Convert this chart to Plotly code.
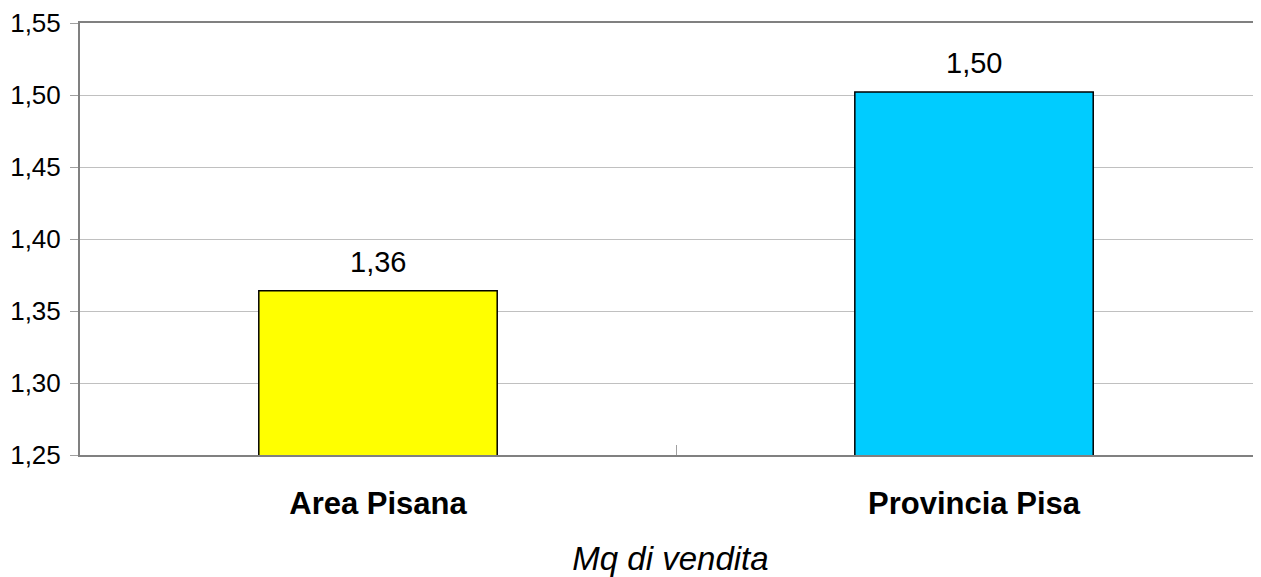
import plotly.graph_objects as go

categories = ["Area Pisana", "Provincia Pisa"]
values = [1.364, 1.502]
colors = ["#FFFF00", "#00CCFF"]
y_ticks = [1.25, 1.30, 1.35, 1.40, 1.45, 1.50, 1.55]

fig = go.Figure()
fig.add_trace(go.Bar(
    x=categories, y=values, width=0.4,
    marker=dict(color=colors, line=dict(color="#000000", width=1.5)),
    showlegend=False, hoverinfo="skip",
))
for c, v in zip(categories, values):
    fig.add_annotation(x=c, y=v, text=f"{v:.2f}".replace(".", ","), showarrow=False,
                       yanchor="bottom", yshift=11,
                       font=dict(family="Liberation Sans, Arial", size=29, color="#000000"))

fig.update_layout(
    width=1253, height=569,
    margin=dict(l=72, r=0, t=15, b=122),
    paper_bgcolor="white", plot_bgcolor="white",
    separators=",.",
    font=dict(family="Liberation Sans, Arial", color="#000000"),
    xaxis=dict(
        range=[-0.5, 1.4815], showline=True, linecolor="#808080", linewidth=2, mirror=True,
        ticks="inside", tickson="boundaries", ticklen=10, tickcolor="#A0A0A0", tickwidth=1,
        showgrid=False, tickfont=dict(size=31, family="Liberation Sans, Arial", weight="bold"),
        ticklabelstandoff=20, automargin=False,
        title=dict(text="<i>Mq di vendita</i>", font=dict(size=33), standoff=42),
    ),
    yaxis=dict(
        range=[1.25, 1.55], tickvals=y_ticks, tickformat=".2f",
        showline=True, linecolor="#808080", linewidth=2,
        ticks="outside", ticklen=8, tickcolor="#A0A0A0", tickwidth=1,
        showgrid=True, gridcolor="#C0C0C0", gridwidth=1,
        tickfont=dict(size=26), ticklabelstandoff=4, zeroline=False, automargin=False,
    ),
)
fig.write_html("out.html")
